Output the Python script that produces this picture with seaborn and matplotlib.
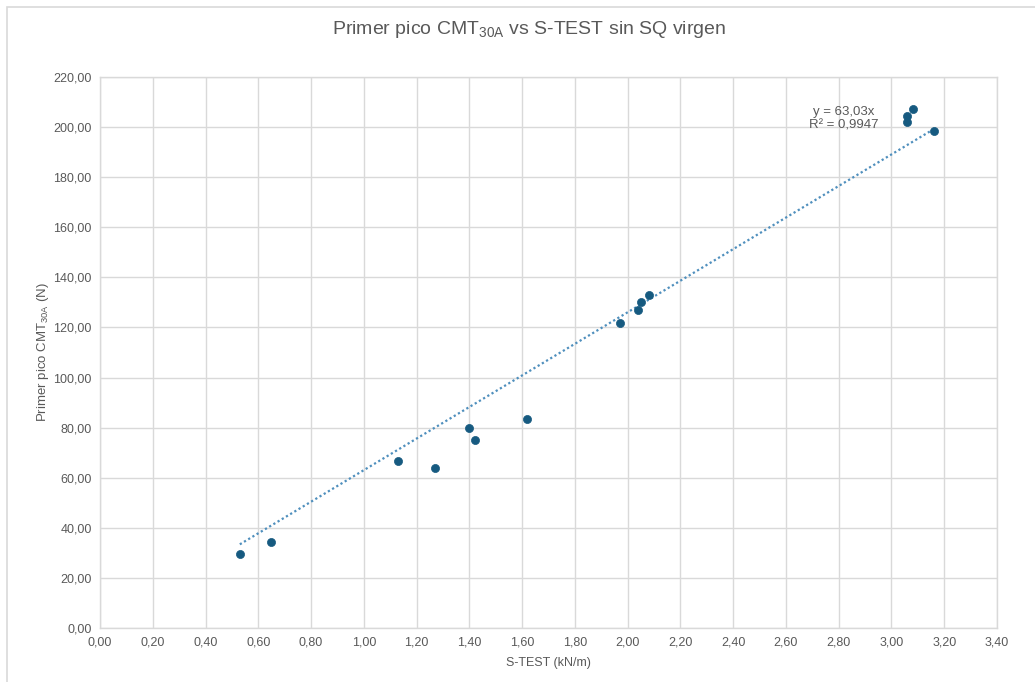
import numpy as np
import pandas as pd
import seaborn as sns
import matplotlib.pyplot as plt
from matplotlib.ticker import FuncFormatter, MultipleLocator
from matplotlib.patches import Rectangle

# datos
s_test = [0.53, 0.65, 1.13, 1.27, 1.40, 1.42, 1.62, 1.97, 2.04, 2.05, 2.08, 3.06, 3.06, 3.08, 3.16]
pico = [29.5, 34.3, 66.7, 64.0, 79.8, 75.0, 83.5, 121.8, 127.0, 130.0, 133.0, 202.0, 204.3, 207.2, 198.4]
SLOPE = 63.03
R2 = 0.9947

GRAY = '#595959'
GRID = '#d9d9d9'

sns.set_theme(style='white')
plt.rcParams['font.family'] = ['Liberation Sans', 'DejaVu Sans']
plt.rcParams['mathtext.default'] = 'regular'

df = pd.DataFrame({'x': s_test, 'y': pico})
trend = pd.DataFrame({'x': [min(s_test), max(s_test)]})
trend['y'] = SLOPE * trend['x']

fig = plt.figure(figsize=(10.35, 6.82), dpi=100)
ax = fig.add_axes([100 / 1035, 54 / 682, 897 / 1035, 551 / 682])

# borde del area del grafico (cortado a la derecha y abajo)
top = 1 - 7 / 682
fig.patches.append(Rectangle((7 / 1035, -0.1), 1.2, top + 0.1,
                             transform=fig.transFigure, fill=False, edgecolor=GRID, lw=1.2))

sns.lineplot(data=trend, x='x', y='y', ax=ax, color='#4f8fbd', lw=1.6,
             linestyle=(0, (1, 1.2)), zorder=2)
sns.scatterplot(data=df, x='x', y='y', ax=ax, color='#165a80', s=34,
                edgecolor='#165a80', linewidth=0.5, zorder=3)

ax.set_xlim(0, 3.4)
ax.set_ylim(0, 220)
ax.xaxis.set_major_locator(MultipleLocator(0.2))
ax.yaxis.set_major_locator(MultipleLocator(20))
coma = FuncFormatter(lambda v, p: f'{v:.2f}'.replace('.', ','))
ax.xaxis.set_major_formatter(coma)
ax.yaxis.set_major_formatter(coma)
ax.tick_params(colors=GRAY, labelsize=9, length=0, pad=6)
ax.grid(True, color=GRID, lw=1)
for sp in ax.spines.values():
    sp.set_color(GRID)
    sp.set_linewidth(1)
ax.set_axisbelow(True)

ax.set_xlabel('S-TEST (kN/m)', color=GRAY, fontsize=9, labelpad=6)
ax.set_ylabel('Primer pico CMT$_{30A}$ (N)', color=GRAY, fontsize=9.5, labelpad=2)

ax.text(2.82, 203.5, f'y = {SLOPE:.2f}x'.replace('.', ',') + '\n' + f'R² = {R2:.4f}'.replace('.', ','),
        ha='center', va='center', color=GRAY, fontsize=9.5, linespacing=1.15)

fig.text(529 / 1035, 1 - 30 / 682, 'Primer pico CMT$_{30A}$ vs S-TEST sin SQ virgen',
         ha='center', va='center', color=GRAY, fontsize=14)

fig.savefig('out.png', dpi=100)
